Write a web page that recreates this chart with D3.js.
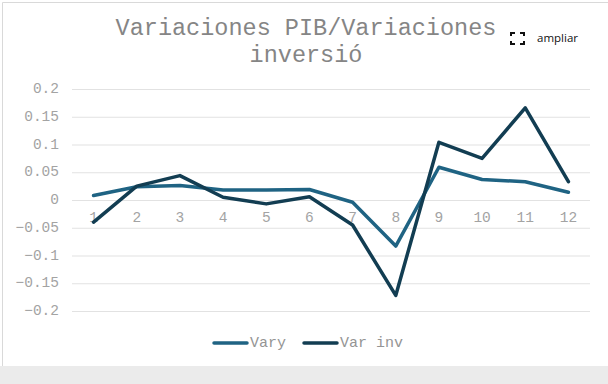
<!DOCTYPE html>
<html lang="es">
  <head>
    <meta charset="UTF-8" />
    <title>Variaciones PIB</title>
    <script src="https://d3js.org/d3.v7.min.js"></script>
    <style>
      html, body { margin: 0; padding: 0; background: #fff; overflow: hidden; }
    </style>
  </head>
  <body>
    <div id="chart"></div>
    <script>
      var categories = ["1", "2", "3", "4", "5", "6", "7", "8", "9", "10", "11", "12"];
      var vary = [0.008, 0.024, 0.026, 0.018, 0.018, 0.019, -0.004, -0.083, 0.059, 0.037, 0.033, 0.014];
      var varInv = [-0.04, 0.025, 0.044, 0.005, -0.007, 0.006, -0.045, -0.172, 0.104, 0.075, 0.166, 0.033];
      var yTicks = [0.2, 0.15, 0.1, 0.05, 0, -0.05, -0.1, -0.15, -0.2];
      var titleLines = ["Variaciones PIB/Variaciones", "inversió"];
      var seriesNames = ["Vary", "Var inv"];
      var seriesColors = ["#1f6383", "#123d52"];

      var mono = "'Liberation Mono', monospace";
      var svg = d3.select("#chart").append("svg").attr("width", 608).attr("height", 384).style("display", "block");

      // frame and the grey strip at the bottom
      svg.append("rect").attr("x", 0).attr("y", 0).attr("width", 608).attr("height", 384).attr("fill", "#fff");
      svg.append("path").attr("d", "M2.5,366V2.5H608").attr("fill", "none").attr("stroke", "#d9d9d9");
      svg.append("rect").attr("x", 0).attr("y", 366).attr("width", 608).attr("height", 18).attr("fill", "#ebebeb");

      var x = d3.scaleBand().domain(categories).range([72, 590]);
      var y = d3.scaleLinear().domain([-0.2, 0.2]).range([311, 89]);

      svg.selectAll("text.title")
        .data(titleLines)
        .enter()
        .append("text")
        .attr("class", "title")
        .attr("x", 306)
        .attr("y", function (d, i) { return 35 + i * 27; })
        .attr("text-anchor", "middle")
        .style("font-family", mono)
        .style("font-size", "23.5px")
        .attr("fill", "#858585")
        .text(function (d) { return d; });

      var yAxis = svg.append("g")
        .attr("transform", "translate(72,0)")
        .call(d3.axisLeft(y).tickValues(yTicks).tickSize(-518).tickPadding(13).tickFormat(function (d) {
          return String(d).replace("-", "\u2212");
        }));
      yAxis.select(".domain").remove();
      yAxis.selectAll("line").attr("stroke", "#e2e2e2").attr("stroke-width", 1.2);
      yAxis.selectAll("text").attr("dy", "0.25em").style("font-family", mono).style("font-size", "14.5px").attr("fill", "#a3a3a3");

      var xAxis = svg.append("g")
        .attr("transform", "translate(0," + y(0) + ")")
        .call(d3.axisBottom(x).tickSize(0).tickPadding(12));
      xAxis.select(".domain").remove();
      xAxis.selectAll("text").style("font-family", mono).style("font-size", "14.5px").attr("fill", "#a3a3a3");

      var line = d3.line()
        .x(function (d, i) { return x(categories[i]) + x.bandwidth() / 2; })
        .y(function (d) { return y(d); });

      [vary, varInv].forEach(function (values, i) {
        svg.append("path")
          .datum(values)
          .attr("fill", "none")
          .attr("stroke", seriesColors[i])
          .attr("stroke-width", 3.5)
          .attr("stroke-linecap", "round")
          .attr("stroke-linejoin", "round")
          .attr("d", line);
      });

      // legend
      var legendX = [214, 304];
      seriesNames.forEach(function (name, i) {
        svg.append("line")
          .attr("x1", legendX[i]).attr("x2", legendX[i] + 33)
          .attr("y1", 343).attr("y2", 343)
          .attr("stroke", seriesColors[i])
          .attr("stroke-width", 3.5)
          .attr("stroke-linecap", "round");
        svg.append("text")
          .attr("x", legendX[i] + 36)
          .attr("y", 347)
          .style("font-family", mono)
          .style("font-size", "15px")
          .attr("fill", "#949494")
          .text(name);
      });

      // "ampliar" button
      var corners = ["M511,36V33H515", "M520,33H524V36", "M511,41V44H515", "M520,44H524V41"];
      svg.selectAll("path.corner")
        .data(corners)
        .enter()
        .append("path")
        .attr("class", "corner")
        .attr("d", function (d) { return d; })
        .attr("fill", "none")
        .attr("stroke", "#111")
        .attr("stroke-width", 2);
      svg.append("text")
        .attr("x", 537)
        .attr("y", 42)
        .style("font-family", "'Open Sans', sans-serif")
        .style("font-size", "11.5px")
        .style("font-weight", 500)
        .attr("fill", "#111")
        .text("ampliar");
    </script>
  </body>
</html>
